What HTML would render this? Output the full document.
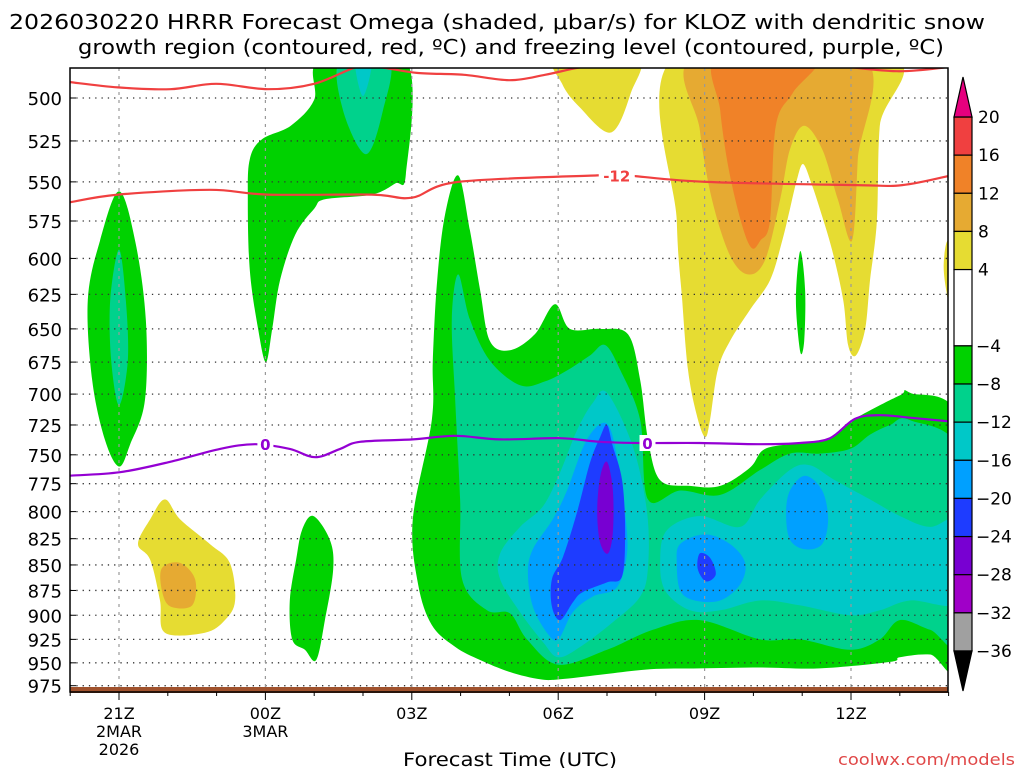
<!DOCTYPE html>
<html><head><meta charset="utf-8">
<style>
html,body{margin:0;padding:0;background:#fff;}
body{width:1024px;height:768px;overflow:hidden;font-family:"DejaVu Sans","Liberation Sans",sans-serif;}
svg text{font-family:"DejaVu Sans","Liberation Sans",sans-serif;}
</style></head>
<body>
<svg id="chart" width="1024" height="768" viewBox="0 0 1024 768" xmlns="http://www.w3.org/2000/svg">
<text x="9" y="29" font-size="20" textLength="976" lengthAdjust="spacingAndGlyphs">2026030220 HRRR Forecast Omega (shaded, μbar/s) for KLOZ with dendritic snow</text>
<text x="78" y="54" font-size="20" textLength="866" lengthAdjust="spacingAndGlyphs">growth region (contoured, red, ºC) and freezing level (contoured, purple, ºC)</text>
<defs><clipPath id="plotclip"><rect x="70" y="68" width="878" height="624"/></clipPath></defs>
<g id="fills" clip-path="url(#plotclip)"></g>
<g id="grid"></g>
<g id="lines" clip-path="url(#plotclip)"></g>
<rect x="70" y="687" width="878" height="6" fill="#a0522d"/>
<rect x="70" y="68" width="878" height="624" fill="none" stroke="#000" stroke-width="1.5"/>
<g id="axes"></g>
<g id="cbar"></g>
<text x="403" y="766" font-size="19" textLength="214" lengthAdjust="spacingAndGlyphs">Forecast Time (UTC)</text>
<text x="838" y="765" font-size="16" fill="#e04848" textLength="177" lengthAdjust="spacingAndGlyphs">coolwx.com/models</text>
</svg>
<script>
// ---- data (t = hours after 21Z 2 Mar, p = hPa) ----
const pTicks=[500,525,550,575,600,625,650,675,700,725,750,775,800,825,850,875,900,925,950,975];
const tTicks=[0,3,6,9,12,15];
const tLabels=[["21Z","2MAR","2026"],["00Z","3MAR"],["03Z"],["06Z"],["09Z"],["12Z"]];
const cbLevels=[20,16,12,8,4,-4,-8,-12,-16,-20,-24,-28,-32,-36];
const cbColors=["#f04040","#f08228","#e6aa32","#e6dc32","#ffffff","#00d200","#00d28c","#00c8c8","#00a0ff","#1e3cff","#7800d2","#a000c8","#a0a0a0"];
const green1=[0,556,0.33,588,0.55,643,0.53,705,0.23,741,0,760,-0.29,737,-0.55,689,-0.64,629,-0.39,588];
const teal1=[0,594,0.14,629,0.18,674,0,709,-0.16,674,-0.18,629];
const green2=[4.12,479,5.88,479,5.88,545,5.66,551,5.18,558,4.22,561,4.0,567,3.61,584,3.3,615,3.14,650,3.01,675,2.85,650,2.68,608,2.64,561,2.68,536,2.93,524,3.52,516,4.0,501];
const teal2=[4.53,479,5.53,479,5.41,507,5.06,533,4.59,507];
const cyan2=[4.84,479,5.18,479,5.0,499];
const green3=[3.98,804,4.32,826,4.39,854,4.22,905,4.04,947,3.81,936,3.55,925,3.5,885,3.63,845,3.75,817];
const green4=[6.95,546,7.19,581,7.4,622,7.6,659,8.01,666,8.52,654,8.93,632,9.24,650,9.86,650,10.43,654,10.68,689,10.84,737,11.09,772,11.7,777,12.32,777,12.93,761,13.24,745,13.96,740,14.57,736,15.08,720,16.0,701,16.21,699,17.3,729,17.3,949,16.62,941,16.0,944,15.8,949,14.36,956,13.14,955,11.9,956,10.88,957,9.86,963,9.04,968,8.63,968,8.01,960,7.4,947,6.89,933,6.41,910,6.13,869,6.02,807,6.41,721,6.43,674,6.52,615,6.68,571];
const teal4=[6.95,611,7.19,643,7.6,674,8.22,693,8.73,690,9.2,681,9.65,670,9.96,662,10.27,681,10.68,721,10.84,789,11.5,781,12.32,785,13.14,763,13.75,749,14.36,749,14.98,745,15.39,733,15.8,725,16.21,721,17.3,754,17.3,925,16.62,915,16.0,905,15.59,925,14.98,936,13.96,925,13.14,925,11.9,905,10.94,915,10.0,936,9.0,952,8.36,925,8.01,898,7.54,895,7.03,864,6.99,789,6.89,705,6.82,643];
const cyanA=[10.0,699,10.53,743,10.82,800,10.84,852,10.68,881,10.12,907,9.45,933,9.0,944,8.69,928,8.22,897,7.81,864,7.81,839,8.22,814,8.69,795,9.04,765,9.39,729,9.71,707];
const cyanB=[11.23,817,11.9,804,12.73,814,13.14,789,13.75,763,14.16,759,14.67,772,15.39,789,16.0,804,16.62,814,17.3,807,17.3,885,16.21,885,15.59,895,14.98,900,13.96,890,13.14,885,12.32,895,11.7,895,11.19,875,11.09,845];
const blueA=[10.0,724,10.23,757,10.37,800,10.41,839,10.2,872,9.71,881,9.3,897,9.0,925,8.77,918,8.48,891,8.38,858,8.48,835,8.89,807,9.18,781,9.59,737];
const blueB=[11.5,830,12.01,821,12.52,830,12.83,848,12.73,869,12.32,885,11.8,885,11.5,875,11.43,848];
const blueC=[13.75,781,14.06,768,14.41,781,14.53,807,14.41,830,14.06,835,13.75,826,13.67,802];
const dblueA=[10.0,725,10.12,743,10.31,772,10.37,817,10.31,861,10.0,867,9.49,877,9.3,887,9.04,905,8.87,891,8.87,864,9.1,842,9.39,800,9.65,757,9.86,735];
const dblueB=[11.9,839,12.11,843,12.23,859,12.03,866,11.86,854];
const purpleA=[10.0,756,10.12,781,10.12,819,10.02,839,9.86,829,9.8,800,9.86,769];
const yellow1=[0.94,789,1.25,807,1.86,830,2.27,848,2.38,885,2.17,905,1.76,918,0.94,918,0.84,885,0.64,845,0.39,830,0.64,807];
const gold1=[0.88,853,1.25,848,1.56,864,1.5,890,1.05,891,0.88,875];
const yellow2=[8.96,477,10.61,477,10.49,497,10.08,520,9.43,505,9.08,492];
const yellow3=[11.39,477,15.82,477,15.59,516,15.53,575,15.39,615,15.29,650,15.1,670,14.94,662,14.84,629,14.61,594,14.36,567,14.2,552,14.02,539,13.89,549,13.75,567,13.59,588,13.34,615,12.93,636,12.52,659,12.27,681,12.11,721,12.01,735,11.84,717,11.66,681,11.54,629,11.43,575];
const gold3=[11.8,477,15.23,477,15.14,536,15.02,588,14.73,561,14.41,530,14.04,516,13.75,530,13.55,561,13.24,601,12.89,611,12.52,598,12.15,561,11.9,518];
const orange3=[12.27,477,14.28,477,13.81,497,13.46,516,13.34,575,13.14,588,12.97,593,12.77,578,12.5,543,12.32,507];
const yellow4=[16.99,588,16.9,604,16.95,622,17.03,629,17.2,608];
const green5=[13.96,595,14.06,622,14.04,659,13.96,667,13.87,629];
const regions=[
 ["green-region-a",green1,"#00d200"],["teal-region-a",teal1,"#00d28c"],
 ["green-region-b",green2,"#00d200"],["teal-region-b",teal2,"#00d28c"],["cyan-region-b",cyan2,"#00c8c8"],
 ["green-region-c",green3,"#00d200"],
 ["green-region-d",green4,"#00d200"],["teal-region-d",teal4,"#00d28c"],
 ["cyan-region-d",cyanA,"#00c8c8"],["cyan-region-e",cyanB,"#00c8c8"],
 ["blue-region-d",blueA,"#00a0ff"],["blue-region-e",blueB,"#00a0ff"],["blue-region-f",blueC,"#00a0ff"],
 ["darkblue-region-d",dblueA,"#1e3cff"],["darkblue-region-e",dblueB,"#1e3cff"],["purple-region-d",purpleA,"#7800d2"],
 ["yellow-region-a",yellow1,"#e6dc32"],["gold-region-a",gold1,"#e6aa32"],
 ["yellow-region-b",yellow2,"#e6dc32"],["yellow-region-c",yellow3,"#e6dc32"],["gold-region-c",gold3,"#e6aa32"],["orange-region-c",orange3,"#f08228"],
 ["yellow-region-d",yellow4,"#e6dc32"],["green-region-e",green5,"#00d200"]
];
const dgzUpper=[-1.02,491,-0.02,494,1.05,495,1.99,492,3.05,495,4.0,492,4.94,482,5.41,483,6.13,486,7.07,487,8.01,490,8.73,487,9.43,483,10.27,480,11.9,478,13.96,479,14.75,482,15.94,485,16.89,483,17.2,481];
const dgzLower=[-1.02,563,-0.02,558,1.86,555,3.05,558,5.18,558,6.0,560,6.95,550,9.8,546,10.39,546,12.03,550,15.1,552,16.05,552,17.05,546];
const freezing=[-1,768,0.02,765,1.05,756,2.07,745,2.79,741,3.5,745,4.02,752,4.53,745,4.94,739,6.02,737,6.89,734,7.81,737,9.04,736,9.86,739,10.68,740,11.9,740,13.14,741,13.96,740,14.57,736,15.08,720,15.59,717,16.21,719,16.99,722];

const NS="http://www.w3.org/2000/svg";
const X=t=>119+t*48.8;
const Y=p=>98+880*Math.log(p/500);
function mk(tag,attrs,parent){const e=document.createElementNS(NS,tag);for(const k in attrs)e.setAttribute(k,attrs[k]);parent.appendChild(e);return e;}
function pts(a){const r=[];for(let i=0;i<a.length;i+=2)r.push([X(a[i]),Y(a[i+1])]);return r;}
function smooth(P,closed){
  const n=P.length;let d="M"+P[0][0].toFixed(1)+","+P[0][1].toFixed(1);
  const get=i=>closed?P[(i+n)%n]:P[Math.max(0,Math.min(n-1,i))];
  const last=closed?n:n-1;
  for(let i=0;i<last;i++){
    const p0=get(i-1),p1=get(i),p2=get(i+1),p3=get(i+2);
    const c1=[p1[0]+(p2[0]-p0[0])/6,p1[1]+(p2[1]-p0[1])/6];
    const c2=[p2[0]-(p3[0]-p1[0])/6,p2[1]-(p3[1]-p1[1])/6];
    d+="C"+c1[0].toFixed(1)+","+c1[1].toFixed(1)+" "+c2[0].toFixed(1)+","+c2[1].toFixed(1)+" "+p2[0].toFixed(1)+","+p2[1].toFixed(1);
  }
  return d+(closed?"Z":"");
}
const fills=document.getElementById('fills');
regions.forEach(r=>{
  const el=mk('path',{d:smooth(pts(r[1]),true),fill:r[2]},fills);
  
  
});
const grid=document.getElementById('grid');
pTicks.forEach(p=>{
  const el=mk('line',{x1:70,x2:948,y1:Y(p),y2:Y(p),stroke:"#333","stroke-width":1.3,"stroke-dasharray":"1.3 5"},grid);
  
  
});
tTicks.forEach(t=>{
  const el=mk('line',{x1:X(t),x2:X(t),y1:68,y2:692,stroke:"#999","stroke-width":1.2,"stroke-dasharray":"3 5"},grid);
  
  
});
const lines=document.getElementById('lines');
[[dgzUpper,"#f04040","dgz-upper-contour"],[dgzLower,"#f04040","dgz-lower-contour"],[freezing,"#9400d3","freezing-level-contour"]].forEach(l=>{
  const el=mk('path',{d:smooth(pts(l[0]),false),fill:"none",stroke:l[1],"stroke-width":2.2},lines);
  
  
});
function lbl(t,p,txt,col,name){
  const g=mk('g',{},lines);
  
  
  mk('rect',{x:X(t)-(txt.length*5+3),y:Y(p)-8,width:txt.length*10+6,height:16,fill:"#fff"},g);
  const tx=mk('text',{x:X(t),y:Y(p)+6,"font-size":15,"font-weight":"bold","text-anchor":"middle",fill:col},g);
  tx.textContent=txt;
}
lbl(10.2,546,"-12","#f04040","dgz-contour-label");
lbl(3.0,741,"0","#9400d3","freezing-label-a");
lbl(10.83,740,"0","#9400d3","freezing-label-b");
const axes=document.getElementById('axes');
pTicks.forEach(p=>{
  const el=mk('text',{x:62,y:Y(p)+7,"font-size":18,"text-anchor":"end"},axes);
  el.textContent=p;
  
  
  const tk=mk('line',{x1:70,x2:76,y1:Y(p),y2:Y(p),stroke:"#000","stroke-width":1},axes);
  
  
});
for(let t=-1;t<=17;t++){
  const major=tTicks.indexOf(t)>=0;
  const tk=mk('line',{x1:X(t),x2:X(t),y1:692,y2:major?700:696,stroke:"#000","stroke-width":1},axes);
  
  
}
tTicks.forEach((t,i)=>{
  tLabels[i].forEach((s,j)=>{
    const el=mk('text',{x:X(t),y:719+j*18,"font-size":16,"text-anchor":"middle"},axes);
    el.textContent=s;
    
    
  });
});
const cb=document.getElementById('cbar');
const CY=v=>117+(20-v)*(534/56);
for(let i=0;i<cbColors.length;i++){
  const y1=CY(cbLevels[i]),y2=CY(cbLevels[i+1]);
  const r=mk('rect',{x:954,y:y1,width:18,height:y2-y1,fill:cbColors[i],stroke:"#000","stroke-width":1.2},cb);
  
  
}
const tu=mk('polygon',{points:"954,117 972,117 963,77",fill:"#e6007e",stroke:"#000","stroke-width":1.2},cb);


const td=mk('polygon',{points:"954,651 972,651 963,691",fill:"#000",stroke:"#000","stroke-width":1.2},cb);


cbLevels.forEach(v=>{
  const el=mk('text',{x:v<0?976:978,y:CY(v)+6,"font-size":17},cb);
  el.textContent=v<0?"\u2212"+(-v):String(v);
  
  
});
</script>
</body></html>
